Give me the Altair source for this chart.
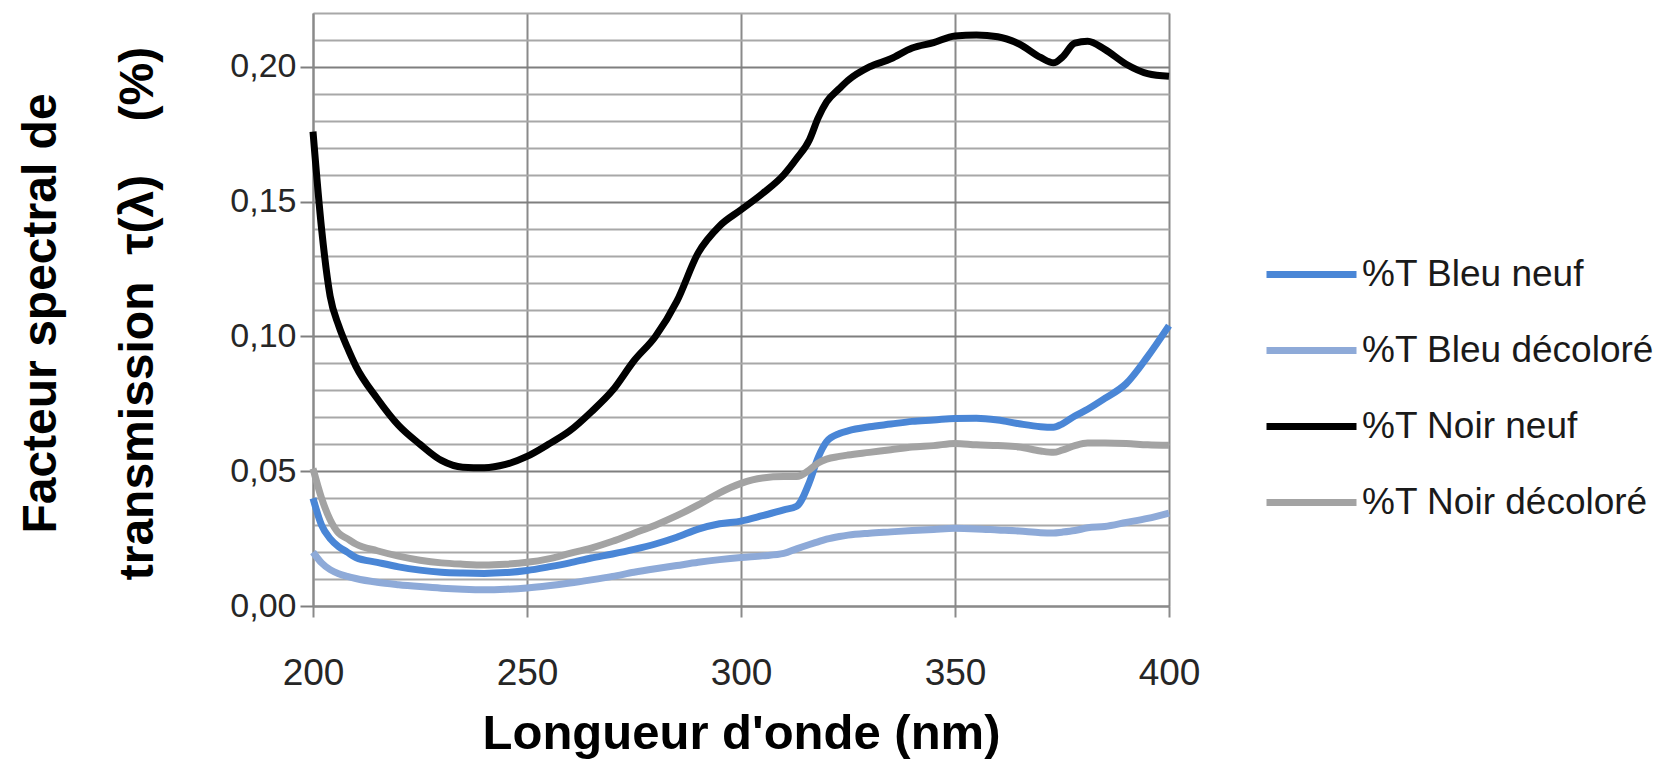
import altair as alt
import pandas as pd

wavelength = [200, 202, 204, 206, 208, 210, 215, 220, 225, 230, 235, 240, 245, 250, 255,
              260, 265, 270, 275, 280, 285, 290, 295, 300, 305, 310, 313, 316, 318, 320,
              323, 325, 330, 335, 340, 345, 350, 355, 360, 365, 370, 373, 375, 378, 381,
              385, 390, 395, 400]

bleu_neuf = [0.040, 0.030, 0.025, 0.022, 0.020, 0.018, 0.0162, 0.0145, 0.0133, 0.0125, 0.0122,
             0.0121, 0.0124, 0.0132, 0.0145, 0.016, 0.0178, 0.0193, 0.021, 0.023, 0.0255,
             0.0285, 0.0305, 0.0315, 0.0335, 0.0357, 0.037, 0.046, 0.055, 0.061, 0.064, 0.065,
             0.0665, 0.0675, 0.0685, 0.069, 0.0696, 0.0697, 0.069, 0.0676, 0.0665, 0.0663,
             0.0675, 0.0705, 0.073, 0.077, 0.0825, 0.0925, 0.104]

bleu_decolore = [0.020, 0.016, 0.0135, 0.012, 0.011, 0.0102, 0.0088, 0.0079, 0.0072, 0.0066,
                 0.0062, 0.006, 0.0062, 0.0067, 0.0075, 0.0085, 0.0097, 0.011, 0.0125, 0.0138,
                 0.015, 0.0162, 0.0172, 0.018, 0.0186, 0.0195, 0.0212, 0.0228, 0.0238, 0.0248,
                 0.0258, 0.0263, 0.027, 0.0275, 0.028, 0.0284, 0.0288, 0.0286, 0.0282, 0.0278,
                 0.0272, 0.0271, 0.0274, 0.028, 0.029, 0.0295, 0.031, 0.0325, 0.0345]

noir_neuf = [0.176, 0.140, 0.115, 0.104, 0.096, 0.089, 0.077, 0.067, 0.060, 0.054, 0.0515,
             0.0513, 0.0525, 0.0555, 0.060, 0.065, 0.072, 0.080, 0.091, 0.100, 0.113, 0.131,
             0.141, 0.147, 0.153, 0.160, 0.166, 0.173, 0.181, 0.187, 0.192, 0.195, 0.200,
             0.203, 0.207, 0.209, 0.2115, 0.2118, 0.2112, 0.2085, 0.2035, 0.2015, 0.2035,
             0.2088, 0.2095, 0.2065, 0.201, 0.1975, 0.1965]

noir_decolore = [0.051, 0.040, 0.032, 0.027, 0.025, 0.023, 0.0205, 0.0185, 0.017, 0.016,
                 0.0155, 0.0152, 0.0155, 0.0162, 0.0175, 0.0195, 0.0215, 0.024, 0.027, 0.030,
                 0.0335, 0.0375, 0.042, 0.0455, 0.0475, 0.048, 0.048, 0.0505, 0.053, 0.0545,
                 0.0555, 0.056, 0.057, 0.058, 0.059, 0.0595, 0.0603, 0.0598, 0.0595, 0.059,
                 0.0575, 0.057, 0.0578, 0.0595, 0.0605, 0.0605, 0.0603, 0.0598, 0.0596]

series_names = ["%T Bleu neuf", "%T Bleu décoloré", "%T Noir neuf", "%T Noir décoloré"]
series_colors = ["#4a86d6", "#8eaad8", "#000000", "#a3a3a3"]
series_values = [bleu_neuf, bleu_decolore, noir_neuf, noir_decolore]

x_ticks = [200, 250, 300, 350, 400]
y_ticks = [0.00, 0.01, 0.02, 0.03, 0.04, 0.05, 0.06, 0.07, 0.08, 0.09, 0.10, 0.11,
           0.12, 0.13, 0.14, 0.15, 0.16, 0.17, 0.18, 0.19, 0.20, 0.21, 0.22]

rows = []
for name, vals in zip(series_names, series_values):
    for w, v in zip(wavelength, vals):
        rows.append({"lambda": w, "T": v, "serie": name})
df = pd.DataFrame(rows)

major = "abs(datum.value*20 - round(datum.value*20)) < 0.001"
nb = "\u00a0"

x_axis = alt.Axis(
    values=x_ticks, title="Longueur d'onde (nm)", grid=True,
    gridColor="#8a8a8a", gridWidth=2, domainColor="#8a8a8a", domainWidth=2,
    tickColor="#8a8a8a", tickWidth=2, tickSize=11,
    labelFont="Liberation Sans", labelFontSize=37, labelColor="#262626",
    labelPadding=38, labelFlush=False, labelOverlap=False,
    titleFont="Liberation Sans", titleFontWeight="bold", titleFontSize=49,
    titleColor="#000000", titleBaseline="alphabetic", titleY=142,
)

y_axis = alt.Axis(
    values=y_ticks,
    labelExpr="(" + major + ") ? replace(format(datum.value, '.2f'), '.', ',') : ''",
    grid=True,
    gridColor={"condition": {"test": major, "value": "#7f7f7f"}, "value": "#a8a8a8"},
    gridWidth=2, domainColor="#8a8a8a", domainWidth=2,
    tickColor={"condition": {"test": major, "value": "#7f7f7f"}, "value": "transparent"},
    tickWidth=2, tickSize=13,
    labelFont="Liberation Sans", labelFontSize=34, labelColor="#262626",
    labelPadding=4, labelOverlap=False, labelBound=False,
    title=["Facteur spectral de",
           "transmission" + nb * 2 + "\u03c4(\u03bb)" + nb * 4 + "(%)"],
    titleFont="Liberation Sans", titleFontWeight="bold", titleFontSize=48,
    titleColor="#000000", titleLineHeight=97, titleAngle=270,
    titleAlign="center", titleBaseline="alphabetic", titleX=-258, titleY=300,
)

chart = alt.Chart(df).mark_line(strokeWidth=7, interpolate="monotone").encode(
    x=alt.X("lambda:Q", scale=alt.Scale(domain=[200, 400], nice=False, zero=False), axis=x_axis),
    y=alt.Y("T:Q", scale=alt.Scale(domain=[0, 0.22], nice=False, zero=False), axis=y_axis),
    color=alt.Color(
        "serie:N",
        scale=alt.Scale(domain=series_names, range=series_colors),
        legend=alt.Legend(
            title=None, orient="none", legendX=950, legendY=213,
            symbolType="stroke", symbolSize=8100, symbolStrokeWidth=7,
            labelFont="Liberation Sans", labelFontSize=37, labelColor="#1a1a1a",
            labelOffset=2, rowPadding=9, labelLimit=0,
        ),
    ),
    detail="serie:N",
).properties(
    width=856, height=593,
    autosize=alt.AutoSizeParams(type="none"),
    padding={"left": 313, "top": 13, "right": 508, "bottom": 154},
).configure_view(strokeWidth=0).configure(background="white")

chart.save("out.html", embed_options={"renderer": "svg", "actions": False})
